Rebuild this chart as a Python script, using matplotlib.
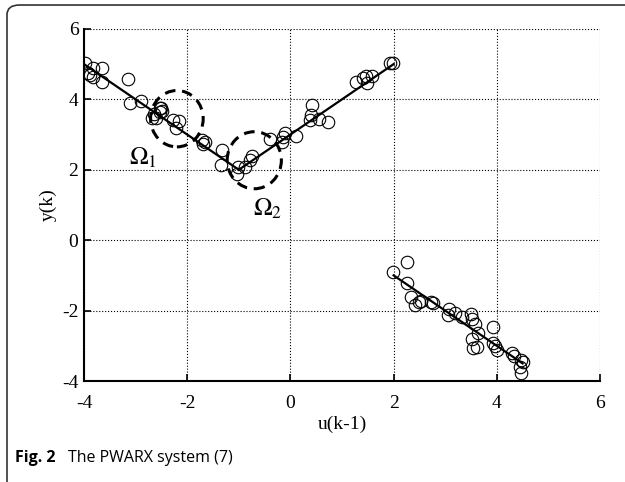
import numpy as np
import matplotlib
matplotlib.use('Agg')
from matplotlib import pyplot as plt
from matplotlib.patches import Ellipse, FancyBboxPatch

plt.rcParams['font.family'] = 'Liberation Serif'
plt.rcParams['mathtext.fontset'] = 'stix'
plt.rcParams['axes.unicode_minus'] = False

# measured samples u(k-1), y(k) for the three regions
u1 = [-3.99, -3.93, -3.88, -3.82, -3.83, -3.65, -3.65, -3.14, -3.11, -2.90,
      -2.53, -2.49, -2.64, -2.69, -2.60, -2.27, -2.15, -2.22, -1.72, -1.69,
      -1.66, -1.33, -1.35, -1.03, -2.51, -2.53]
y1 = [5.03, 4.74, 4.69, 4.90, 4.64, 4.88, 4.50, 4.58, 3.89, 3.95,
      3.75, 3.67, 3.58, 3.46, 3.46, 3.41, 3.39, 3.18, 2.85, 2.72,
      2.78, 2.56, 2.14, 1.87, 3.76, 3.64]
u2 = [-1.01, -0.88, -0.78, -0.75, -0.40, -0.15, -0.10, -0.17, 0.11, 0.41,
      0.39, 0.38, 0.56, 0.73, 1.27, 1.40, 1.47, 1.48, 1.59, 1.93, 1.99]
y2 = [2.09, 2.09, 2.28, 2.40, 2.87, 2.92, 3.05, 2.80, 2.96, 3.84,
      3.56, 3.42, 3.43, 3.37, 4.49, 4.60, 4.66, 4.46, 4.65, 5.03, 5.04]
u3 = [1.99, 2.25, 2.25, 2.33, 2.41, 2.50, 2.54, 2.72, 2.76, 3.08,
      3.06, 3.19, 3.32, 3.50, 3.51, 3.58, 3.64, 3.51, 3.54, 3.62,
      3.93, 3.92, 3.97, 4.00, 4.29, 4.33, 4.46, 4.51, 4.45, 4.46]
y3 = [-0.91, -0.63, -1.22, -1.60, -1.84, -1.75, -1.72, -1.75, -1.79, -1.96,
      -2.13, -2.08, -2.17, -2.10, -2.25, -2.38, -2.65, -2.82, -3.07, -3.04,
      -2.46, -2.91, -3.01, -3.12, -3.21, -3.29, -3.40, -3.45, -3.59, -3.78]

# piecewise affine model
seg_u = [[-4, -1], [-1, 2], [2, 4.5]]
seg_y = [[5, 2], [2, 5], [-1, -3.5]]

# regions Omega_1, Omega_2 (center, width, height in data units)
regions = [((-2.2, 3.45), 1.02, 1.6), ((-0.7, 2.27), 1.05, 1.62)]
region_labels = [r'$\Omega_1$', r'$\Omega_2$']
label_pos = [(-3.13, 2.35), (-0.72, 0.88)]

fig = plt.figure(figsize=(6.25, 4.82), dpi=100)
ax = fig.add_axes([0.1344, 0.2095, 0.8256, 0.7305])

for su, sy in zip(seg_u, seg_y):
    ax.plot(su, sy, 'k-', lw=1.6, zorder=3)
for u, y in [(u1, y1), (u2, y2), (u3, y3)]:
    ax.plot(u, y, 'o', mfc='none', mec='k', ms=9, mew=0.8, zorder=4)

for (c, w, h) in regions:
    ax.add_patch(Ellipse(c, w, h, fill=False, ec='k', lw=2.2,
                         ls=(0, (3.5, 2.2)), zorder=5))
for lab, (px, py) in zip(region_labels, label_pos):
    ax.text(px, py, lab, fontsize=18, ha='left', va='center')

ax.set_xlim(-4, 6)
ax.set_ylim(-4, 6)
ax.set_xticks(np.arange(-4, 7, 2))
ax.set_yticks(np.arange(-4, 7, 2))
ax.grid(True, ls=':', color='k', lw=0.8)
ax.spines['top'].set_visible(False)
ax.spines['right'].set_visible(False)
ax.spines['left'].set_linewidth(1.5)
ax.spines['bottom'].set_linewidth(1.5)
ax.tick_params(direction='in', length=5, width=1.2, labelsize=14)
ax.tick_params(axis='x', pad=10)
ax.tick_params(axis='y', pad=4)
ax.set_xlabel('u(k-1)', fontsize=14, labelpad=3)
ax.set_ylabel('y(k)', fontsize=14, labelpad=4)

# frame (open to the right and bottom) and caption
fig.patches.append(FancyBboxPatch((0.0112, -0.02), 1.02, 1.0096,
                                  boxstyle='round,pad=0,rounding_size=0.02',
                                  transform=fig.transFigure, fill=False,
                                  ec='#333333', lw=1.2, clip_on=False))
fig.text(0.024, 0.05, 'Fig. 2', fontsize=11.5, fontweight='bold',
         family='Open Sans', va='center')
fig.text(0.108, 0.05, 'The PWARX system (7)', fontsize=11.5,
         family='Open Sans', va='center')

fig.savefig('out.png', dpi=100)
